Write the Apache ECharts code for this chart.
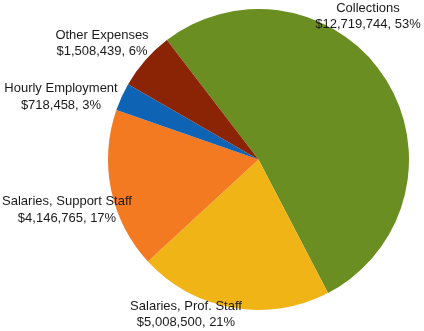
<!DOCTYPE html>
<html><head><meta charset="utf-8">
<script src="https://cdn.jsdelivr.net/npm/echarts@6/dist/echarts.min.js"></script>
<style>html,body{margin:0;padding:0;background:#fff}#c{width:424px;height:331px}</style>
</head><body><div id="c"></div>
<script>
const categories = ["Collections", "Salaries, Prof. Staff", "Salaries, Support Staff", "Hourly Employment", "Other Expenses"];
const values = [12719744, 5008500, 4146765, 718458, 1508439];
const percents = ["53%", "21%", "17%", "3%", "6%"];
const colors = ["#6B8E23", "#F0B416", "#F47A22", "#0F63B4", "#8A2404"];
const labelPos = [[368, 16.5], [186, 314.5], [67, 210], [61, 97], [102, 43.5]];

function fmt(v){ return "$" + v.toString().replace(/\B(?=(\d{3})+(?!\d))/g, ","); }

const chart = echarts.init(document.getElementById('c'), null, {renderer:'canvas'});
chart.setOption({
  animation:false,
  series:[{
    type:'pie',
    center:[258.5, 159.5],
    radius:[0, 150.5],
    startAngle:127.5,
    clockwise:true,
    avoidLabelOverlap:false,
    data: categories.map((n,i)=>({name:n, value:values[i], itemStyle:{color:colors[i]}})),
    label:{
      show:true,
      position:'outside',
      formatter: p => p.name + "\n" + fmt(p.value) + ", " + percents[p.dataIndex],
      fontFamily:'Liberation Sans, Arial, sans-serif',
      fontSize:13,
      lineHeight:16.5,
      color:'#1a1a1a',
      align:'center',
      overflow:'none',
      width:200
    },
    labelLine:{show:false},
    labelLayout: p => ({x:labelPos[p.dataIndex][0], y:labelPos[p.dataIndex][1], align:'center', verticalAlign:'middle', hideOverlap:false}),
    emphasis:{disabled:true}
  }]
});
</script></body></html>
